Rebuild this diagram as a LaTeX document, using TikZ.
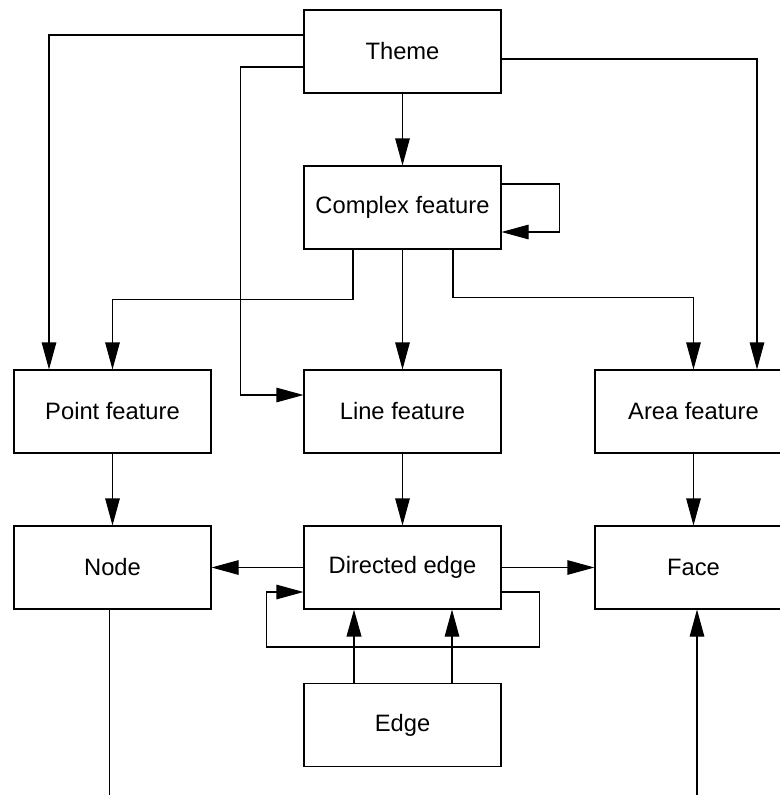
\documentclass[tikz,border=0pt]{standalone}
\usepackage{fontspec}
\setmainfont{Liberation Sans}
\usetikzlibrary{arrows.meta}

\begin{document}
\begin{tikzpicture}[
node distance=3.12cm,
line width=0.6pt,
every node/.style={draw, align=center, minimum width=3.94cm, minimum height=1.66cm, font=\fontsize{13.5}{16}\selectfont},
arrow/.style={-{Triangle[length=5.4mm, width=2.9mm]}},
thickarrow/.style={arrow, line width=1.3pt}
]
\useasboundingbox (0,0) rectangle (15.6,-15.9);

\node (theme) at (8.05,-1.03) {Theme};
\node (complex) [below of=theme] {Complex feature};
\node (line) [below of=complex, node distance=4.08cm] {Line feature};
\node (point) [left of=line, node distance=5.8cm] {Point feature};
\node (area) [right of=line, node distance=5.82cm] {Area feature};
\node (directed) [below of=line] {Directed edge};
\node (node) [left of=directed, node distance=5.8cm] {Node};
\node (face) [right of=directed, node distance=5.82cm] {Face};
\node (edge) [below of=directed, node distance=3.15cm] {Edge};
\coordinate[below of=node, node distance=4.55cm, xshift=-0.06cm] (nodeend);
\coordinate[below of=face, node distance=4.55cm, xshift=0.07cm] (faceend);

\draw[arrow] ([yshift=0.33cm]theme.west) -| ([xshift=-1.27cm]point.north);
\draw[arrow] ([yshift=-0.31cm]theme.west) -- ++(-1.26,0) |- ([yshift=0.33cm]line.west);
\draw[arrow] ([yshift=-0.15cm]theme.east) -| ([xshift=1.27cm]area.north);
\draw[arrow] (theme) -- (complex);
\draw[arrow] ([yshift=0.47cm]complex.east) -- ++(1.16,0) |- ([yshift=-0.49cm]complex.east);

\draw[arrow] ([xshift=-0.99cm]complex.south) -- ++(0,-0.99) -| (point.north);
\draw[arrow] (complex) -- (line);
\draw[arrow] ([xshift=1.01cm]complex.south) -- ++(0,-0.96) -| (area.north);

\draw[arrow] (point) -- (node);
\draw[arrow] (line) -- (directed);
\draw[arrow] (area) -- (face);

\draw[arrow] (directed) -- (node);
\draw[arrow] (directed) -- (face);
\draw[arrow] ([yshift=-0.49cm]directed.east) -- ++(0.76,0) |- ([xshift=-0.74cm,yshift=-1.59cm]directed.west) |- ([yshift=-0.49cm]directed.west);

\draw[thickarrow] ([xshift=-0.97cm]edge.north) -- ([xshift=-0.97cm]directed.south);
\draw[arrow] ([xshift=0.99cm]edge.north) -- ([xshift=0.99cm]directed.south);

\draw (node.south -| nodeend) -- (nodeend);
\draw[arrow] (faceend) -- (face.south -| faceend);
\end{tikzpicture}
\end{document}
